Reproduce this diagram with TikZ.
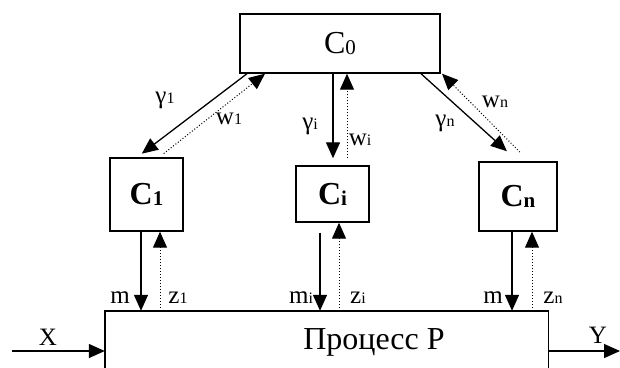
\documentclass[tikz,border=0pt]{standalone}
\usepackage{fontspec}
\setmainfont{Liberation Serif}
\usetikzlibrary{arrows.meta,positioning}

% small index, set on the baseline
\newcommand{\ix}[1]{{\fontsize{16}{16}\selectfont #1}}
\newcommand{\cx}[1]{\raisebox{-1pt}{\fontsize{21}{21}\selectfont #1}}

\tikzset{
  blk/.style={draw,line width=1.4pt,inner sep=0pt,font=\fontsize{32}{32}\selectfont},
  loc/.style={blk,font=\bfseries\fontsize{32}{32}\selectfont},
  ctl/.style={line width=1.3pt,-{Triangle[length=16pt,width=14pt]}},
  fbk/.style={line width=1pt,dotted,-{Triangle[length=16pt,width=14pt]}},
  lbl/.style={inner sep=0pt,font=\fontsize{25}{25}\selectfont},
}

\begin{document}
\begin{tikzpicture}[x=1pt,y=-1pt]
  \useasboundingbox (0,0) rectangle (620,367);
  % coordinator
  \node[blk,minimum width=200pt,minimum height=59pt] (C0) at (340,43.5) {C\cx{0}};
  % local controllers
  \node[loc,minimum width=73pt,minimum height=73pt] (C1) at (146.5,194.5) {C\cx{1}};
  \node[loc,minimum width=73pt,minimum height=56pt] (Ci) at (332.5,194) {C\cx{i}};
  \node[loc,minimum width=78pt,minimum height=69pt] (Cn) at (518,196.5) {C\cx{n}};
  % process, open at the bottom
  \node[minimum width=443pt,minimum height=80pt,inner sep=0pt] (P) at (326.5,351) {};
  \draw[line width=1.4pt] (P.south west) -- (P.north west) -- (P.north east) -- (P.south east);
  \node[inner sep=0pt,anchor=base,font=\fontsize{32}{32}\selectfont] (Pt) at (374,349) {Процесс P};
  % input and output
  \coordinate (xin) at (12,351);
  \coordinate (yout) at (620,351);
  \draw[ctl] (xin) -- (xin -| P.west);
  \draw[ctl] (yout -| P.east) -- (yout);
  \node[lbl] (X) at (48,337) {X};
  \node[lbl] (Y) at (598,335) {Y};
  % coordination and feedback
  \draw[ctl,shorten >=6pt] (C0.south -| 247,0) -- (C1.north -| 137,0);
  \draw[fbk,shorten <=6pt] (C1.north -| 159,0) -- (C0.south -| 265,0);
  \draw[ctl,shorten >=7pt] (C0.south -| 333,0) -- (Ci.north -| 333,0);
  \draw[fbk,shorten <=7pt] (Ci.north -| 347,0) -- (C0.south -| 347,0);
  \draw[ctl,shorten >=15pt] (C0.south -| 421,0) -- (Cn.north -| 518,0);
  \draw[fbk,shorten <=13pt] (Cn.north -| 529,0) -- (C0.south -| 442,0);
  \node[lbl] (g1) at (165,100) {γ\ix{1}};
  \node[lbl] (w1) at (229,119) {w\ix{1}};
  \node[lbl] (gi) at (310,126) {γ\ix{i}};
  \node[lbl] (wi) at (360,140) {w\ix{i}};
  \node[lbl] (gn) at (445,123) {γ\ix{n}};
  \node[lbl] (wn) at (495,102) {w\ix{n}};
  % control and measurement
  \foreach \c/\mx/\zx/\gap in {C1/141/160/0pt, Ci/320/339/10pt, Cn/512/532/0pt} {
    \draw[ctl,shorten <=\gap] (\c.south -| \mx,0) -- (P.north -| \mx,0);
    \draw[fbk] (P.north -| \zx,0) -- (\c.south -| \zx,0);
  }
  \node[lbl] (m1) at (120,298) {m};
  \node[lbl] (z1) at (178,298) {z\ix{1}};
  \node[lbl] (mi) at (301,298) {m\ix{i}};
  \node[lbl] (zi) at (358,298) {z\ix{i}};
  \node[lbl] (mn) at (493,298) {m};
  \node[lbl] (zn) at (553,298) {z\ix{n}};
\end{tikzpicture}
\end{document}
